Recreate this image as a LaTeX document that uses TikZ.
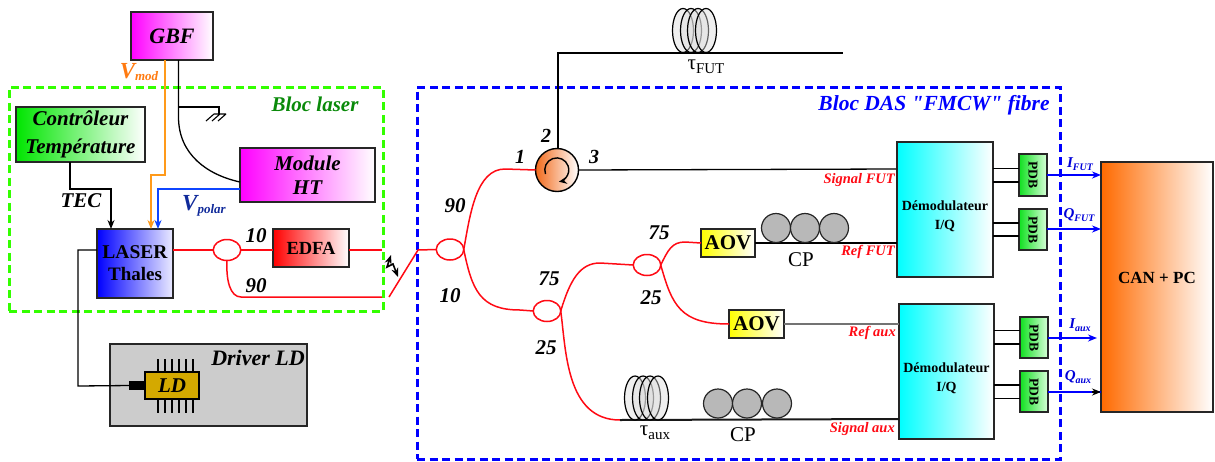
\documentclass[tikz,border=0pt]{standalone}
\usepackage{fontspec}
\setmainfont{Liberation Serif}
\newfontfamily\plainfam{Liberation Serif}
\usetikzlibrary{arrows.meta,shapes.geometric}
\definecolor{lasergreen}{HTML}{33FF00}
\definecolor{blocgreen}{HTML}{0A8A0A}
\definecolor{modorange}{HTML}{FF9A1A}
\definecolor{modtext}{HTML}{FF7A10}
\definecolor{polarblue}{HTML}{0F45FF}
\definecolor{polartext}{HTML}{102A9A}
\definecolor{fibrered}{HTML}{FF0A14}
\definecolor{ldgold}{HTML}{D4A900}
\definecolor{canorange}{HTML}{FF6A00}
\definecolor{circorange}{HTML}{F26A1B}
\definecolor{aovyellow}{HTML}{FFFF00}
\definecolor{pdbgreen}{HTML}{10E020}
\newcommand{\fsz}[1]{\fontsize{#1}{#1}\selectfont}
\newcommand{\vlab}[4]{{\fsz{#1}#3}\raisebox{-0.28em}{\fsz{#2}#4}}
\newcommand{\blocnode}[7]{%
  \pgfmathsetmacro\blocx{(#2+#4)/2}\pgfmathsetmacro\blocy{(#3+#5)/2}%
  \pgfmathsetmacro\blocw{#4-#2}\pgfmathsetmacro\bloch{#5-#3}%
  \node[boxbase,minimum width=\blocw pt,minimum height=\bloch pt,#6] (#1) at (\blocx,\blocy) {#7};}
\tikzset{
  boxbase/.style={draw=black!85,line width=1.6pt,inner sep=0pt,align=center,outer sep=0pt},
  bi/.style={font=\bfseries\itshape\fsz{#1},inner sep=0pt},
  bi/.default=21,
  redlab/.style={font=\bfseries\itshape\fsz{14.5},text=fibrered,inner sep=0pt},
  ampl/.style={font=\bfseries\itshape\fsz{21},inner sep=0pt},
  cplab/.style={font=\fsz{21},inner sep=0pt},
  fibre/.style={draw=fibrered,line width=1.5pt},
  coupler/.style={ellipse,draw=fibrered,line width=1.5pt,minimum width=27.5pt,minimum height=21pt,inner sep=0pt,outer sep=0pt},
  wire/.style={draw=black,line width=1.3pt},
  thickwire/.style={draw=black!90,line width=2pt},
  coilring/.style={ellipse,draw=black,line width=1.2pt,fill=black!14,fill opacity=.45,minimum width=21pt,minimum height=44pt,inner sep=0pt},
  roller/.style={circle,draw=black!85,line width=1.2pt,fill=black!28,minimum size=29pt,inner sep=0pt},
  tip/.style={-{Stealth[length=9pt,width=7pt]}},
  dashbloc/.style={line width=3pt,dash pattern=on 8pt off 4.5pt,inner sep=0pt}
}
\begin{document}
\begin{tikzpicture}[x=1pt,y=-1pt]
\useasboundingbox (0,0) rectangle (1215,461);

% dashed blocs
\node[dashbloc,draw=lasergreen,minimum width=374pt,minimum height=224pt] (blaser) at (196,199) {};
\node[dashbloc,draw=blue,minimum width=643pt,minimum height=372pt] (bdas) at (738.5,273) {};
\node[bi=21,text=blocgreen] (tlaser) at (315,104) {Bloc laser};
\node[bi=21.5,text=blue] (tdas) at (934,105) {\plainfam\bfseries\itshape Bloc DAS "FMCW" fibre};

% boxes of the laser bloc
\blocnode{gbf}{131}{12}{213}{60}{left color=magenta,right color=white}{\bfseries\itshape\fsz{22}GBF}
\blocnode{ctrl}{16}{107}{145}{162}{left color=green!90!black,right color=white}{\bfseries\itshape\fsz{21}\raisebox{1pt}{Contrôleur}\\[11pt]\bfseries\itshape\fsz{21}Température}
\blocnode{ht}{240}{148}{375}{202}{left color=magenta,right color=white}{\bfseries\itshape\fsz{21}Module\\[9pt]\bfseries\itshape\fsz{21}HT}
\blocnode{laser}{97}{229}{173}{298}{left color=blue,right color=white!92!blue}{\bfseries\fsz{19.5}\raisebox{2pt}{LASER}\\[6pt]\bfseries\fsz{19}Thales}
\blocnode{edfa}{273}{229}{349}{267}{left color=red,right color=white}{\bfseries\fsz{18.5}EDFA}
\blocnode{driver}{110}{344}{307}{426}{fill=black!20}{}
\node[bi=22] (tdriver) at (258,358) {Driver LD};

% LD chip
\foreach \px [count=\pn] in {158,165,172,179,186,193}{
  \coordinate (pu\pn) at (\px,359); \coordinate (pd\pn) at (\px,413);
  \draw[black,line width=1.1pt] (pu\pn) -- (pd\pn);
}
\blocnode{ld}{145}{372}{199}{399}{fill=ldgold,draw=black}{\bfseries\itshape\fsz{21}LD}
\blocnode{ldtab}{130}{382}{145}{389}{fill=black,draw=black}{}

% GBF / HT connections
\draw[modorange,line width=1.7pt,tip] (gbf.south -| 165,0) -- (165,175) -- (151,175) -- (laser.north -| 151,0);
\draw[polarblue,line width=1.7pt,tip] (ht.west |- 0,189) -- (158,189) -- (laser.north -| 158,0);
\draw[wire] (gbf.south -| 178.5,0) -- (178.5,117) .. controls (178.5,155) and (208,175) .. (ht.west |- 0,182);
\coordinate (gnd) at (219,114);
\draw[wire,line width=1.2pt] (178.5,107) -- (219,107) -- (gnd);
\draw[black,line width=1.1pt] (214,114) -- (226,114) (214,114) -- (206,121) (220,114) -- (212,121) (226,114) -- (218,121);
\draw[wire,tip] (ctrl.south -| 70,0) -- (70,189) -- (111,189) -- (laser.north -| 111,0);
\draw[wire] (laser.west |- 0,250) -- (78,250) -- (78,386) -- (ldtab.west);

\node[inner sep=0pt,text=modtext,font=\bfseries\itshape] (tvmod) at (139,72) {\vlab{23}{13}{V}{mod}};
\node[inner sep=0pt,text=polartext,font=\bfseries\itshape] (tvpol) at (204,206) {\vlab{23}{13}{V}{polar}};
\node[bi=21] (ttec) at (81,201) {TEC};

% laser fibre part
\node[coupler] (c0) at (227,250) {};
\draw[fibre] (laser.east |- c0) -- (c0.west);
\draw[fibre] (c0.east) -- (edfa.west |- c0);
\coordinate (cut1) at (382,250);
\coordinate (cut2) at (382,297);
\draw[fibre] (edfa.east |- c0) -- (cut1);
\draw[fibre] (c0.south) .. controls (226,280) and (230,297) .. (241,297) -- (cut2);
\node[ampl] (n10a) at (256,236) {10};
\node[ampl] (n90a) at (256,286) {90};

% splice and arrow
\coordinate (sp1) at (389,297);
\coordinate (sp2) at (418,250);
\node[coupler] (c1) at (450,249.5) {};
\draw[fibre] (sp1) -- (sp2) -- (c1.west);
\draw[black,line width=1.6pt,{Stealth[length=9pt,width=7pt]}-{Stealth[length=9pt,width=7pt]}] (391,255) -- (387,267) -- (393,264) -- (398,277);

% circulator
\node[circle,draw=black,line width=1.4pt,left color=circorange,right color=white,minimum size=43pt,inner sep=0pt,outer sep=0pt] (circ) at (557,170) {};
\draw[black,line width=1.4pt,-{Stealth[length=8pt,width=7pt]}] (545.5,174) arc[start angle=160,end angle=440,radius=12];
\draw[fibre] (c1.east) .. controls (470,215) and (476,169) .. (505,169) -- (circ.west);
\draw[wire] (circ.north -| 558,0) -- (558,53) -- (843,53);
\coordinate (sigfut) at (897,169);
\draw[wire] (circ.east) -- (sigfut);
\node[bi=20] (p1) at (520,157) {1};
\node[bi=20] (p2) at (546,136) {2};
\node[bi=20] (p3) at (594,157) {3};
\node[ampl] (n90b) at (455,206) {90};
\node[ampl] (n10b) at (450,296) {10};

% couplers in DAS
\node[coupler] (c2) at (547,311) {};
\node[coupler] (c3) at (647,265) {};
\draw[fibre] (c1.east) .. controls (472,290) and (480,310) .. (520,310) -- (c2.west);
\draw[fibre] (c2.east) .. controls (570,280) and (580,263) .. (600,263) -- (c3.west);
\draw[fibre] (c2.east) .. controls (566,350) and (566,420) .. (620,420);
\node[ampl] (n75c) at (549,279) {75};
\node[ampl] (n25c) at (546,348) {25};
\node[ampl] (n75d) at (659,233) {75};
\node[ampl] (n25d) at (651,298) {25};

% AOV
\blocnode{aova}{701}{229}{755}{257}{left color=aovyellow,right color=white}{\bfseries\fsz{21}AOV}
\blocnode{aovb}{729}{310}{784}{338}{left color=aovyellow,right color=white}{\bfseries\fsz{21}AOV}
\draw[fibre] (c3.east) .. controls (668,250) and (672,242) .. (685,242) -- (aova.west |- 0,243);
\draw[fibre] (c3.east) .. controls (672,305) and (680,324) .. (729,324) -- (aovb.west);

% demodulators, PDB and acquisition
\blocnode{dema}{897}{142}{993}{277}{left color=cyan,right color=white}{\rule{0pt}{24pt}\bfseries\fsz{14}Démodulateur\\[7pt]\bfseries\fsz{14}I/Q}
\blocnode{demb}{899}{304}{994}{439}{left color=cyan,right color=white}{\rule{0pt}{24pt}\bfseries\fsz{14}Démodulateur\\[7pt]\bfseries\fsz{14}I/Q}
\blocnode{pa}{1019}{154}{1047}{196}{left color=pdbgreen,right color=white!85!green}{\rotatebox{-90}{\bfseries\fsz{13.5}PDB}}
\blocnode{pb}{1019}{209}{1047}{250}{left color=pdbgreen,right color=white!85!green}{\rotatebox{-90}{\bfseries\fsz{13.5}PDB}}
\blocnode{pc}{1020}{317}{1048}{358}{left color=pdbgreen,right color=white!85!green}{\rotatebox{-90}{\bfseries\fsz{13.5}PDB}}
\blocnode{pd}{1020}{371}{1048}{412}{left color=pdbgreen,right color=white!85!green}{\rotatebox{-90}{\bfseries\fsz{13.5}PDB}}
\blocnode{can}{1101}{162}{1213}{412}{left color=canorange,right color=white}{\raisebox{4pt}[0pt][0pt]{\bfseries\fsz{17}CAN + PC}}

\draw[wire] (aova.east |- 0,243) -- (dema.west |- 0,243);
\draw[draw=black!55,line width=1.5pt] (aovb.east) -- (demb.west |- aovb);
\draw[thickwire] (620,420) -- (demb.west |- 0,419);
\draw[wire] (sigfut) -- (dema.west |- sigfut);

\foreach \ya/\from/\to in {168.5/dema/pa,182/dema/pa,223/dema/pb,236/dema/pb,330.5/demb/pc,344/demb/pc,385/demb/pd,398.5/demb/pd}{
  \draw[wire] (\from.east |- 0,\ya) -- (\to.west |- 0,\ya);
}
\draw[blue,line width=1.6pt,tip] (pa.east |- 0,175) -- (can.west |- 0,175);
\draw[blue,line width=1.6pt,tip] (pb.east |- 0,229) -- (can.west |- 0,229);
\draw[blue,line width=1.6pt,tip] (pc.east |- 0,338) -- (1097,338);
\draw[blue,line width=1.6pt] (pd.east |- 0,392) -- (can.west |- 0,392);
\draw[black,line width=1.6pt,tip] (1092,392) -- (can.west |- 0,392);

\node[inner sep=0pt,text=blue!85!black,font=\bfseries\itshape] (tifut) at (1080,164) {\vlab{15}{10}{I}{FUT}};
\node[inner sep=0pt,text=blue!85!black,font=\bfseries\itshape] (tqfut) at (1079,215) {\vlab{15}{10}{Q}{FUT}};
\node[inner sep=0pt,text=blue!85!black,font=\bfseries\itshape] (tiaux) at (1080,325) {\vlab{15}{10}{I}{aux}};
\node[inner sep=0pt,text=blue!85!black,font=\bfseries\itshape] (tqaux) at (1078,377) {\vlab{15}{10}{Q}{aux}};

\node[redlab,anchor=east] (tsf) at (895,180) {Signal FUT};
\node[redlab,anchor=east] (trf) at (895,252) {Ref FUT};
\node[redlab,anchor=east] (tra) at (896,333) {Ref aux};
\node[redlab,anchor=east] (tsa) at (895,429) {Signal aux};

% coils
\foreach \cx [count=\cn] in {683,691,698,706}{
  \node[coilring] (fut\cn) at (\cx,30.5) {};
}
\foreach \cx [count=\cn] in {635,643,650,658}{
  \node[coilring] (aux\cn) at (\cx,398) {};
}
\node[inner sep=0pt,font=\fsz{21}] (ttaufut) at (706,67) {τ\raisebox{-0.2em}{\fsz{15}FUT}};
\node[inner sep=0pt,font=\fsz{21}] (ttauaux) at (655,433) {τ\raisebox{-0.2em}{\fsz{15}aux}};

% polarisation controllers
\foreach \cx [count=\cn] in {776,805,834}{
  \node[roller] (rua\cn) at (\cx,228) {};
}
\foreach \cx [count=\cn] in {718,747,777}{
  \node[roller] (rub\cn) at (\cx,403.5) {};
}
\node[cplab] (tcpa) at (801,260) {CP};
\node[cplab] (tcpb) at (743,435) {CP};
\end{tikzpicture}
\end{document}
